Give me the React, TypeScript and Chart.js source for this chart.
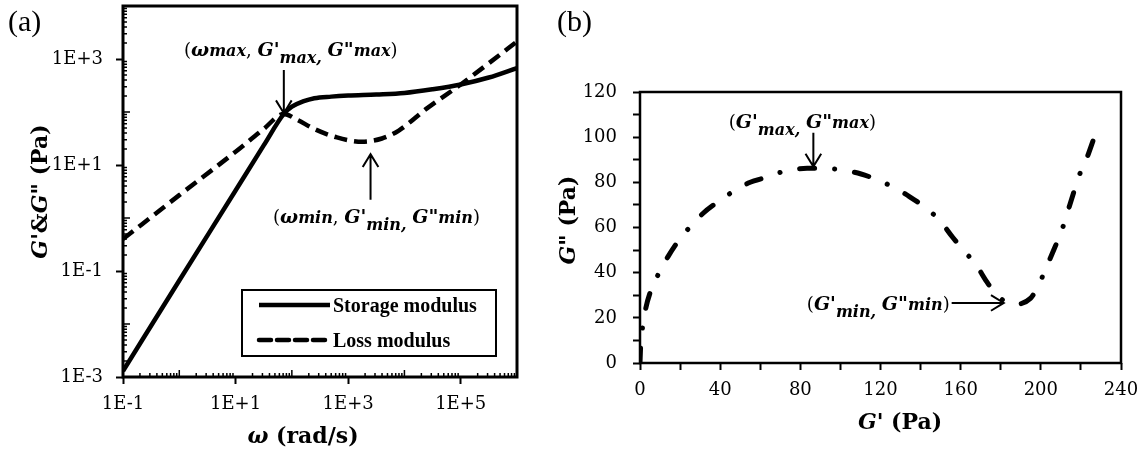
import React, { useEffect, useRef } from 'react';
import { Chart, registerables } from 'chart.js';
Chart.register(...registerables);

const DV = '"DejaVu Serif", serif';
const LIB = '"Liberation Serif", serif';

// ---------- Panel (a): G' and G'' vs omega ----------
const storageOmega = [0.1, 1, 10, 31.6, 72, 100, 158, 251, 501, 1000, 3160, 10000, 31600, 100000, 316000, 1000000];
const storageModulus = [0.0013, 0.066, 3.3, 23.4, 92, 126, 158, 182, 195, 204, 214, 229, 269, 331, 447, 676];
const lossOmega = [0.1, 1, 10, 31.6, 72, 126, 251, 631, 1780, 3980, 7940, 25100, 100000, 316000, 1000000];
const lossModulus = [0.4, 2.7, 17.8, 47.9, 92, 70.8, 47.9, 33.1, 27.5, 31.6, 44.7, 117, 331, 832, 2140];

const xTickValuesA = [0.1, 10, 1000, 100000];
const xTickLabelsA = ['1E-1', '1E+1', '1E+3', '1E+5'];
const yTickValuesA = [0.001, 0.1, 10, 1000];
const yTickLabelsA = ['1E-3', '1E-1', '1E+1', '1E+3'];

// arrow anchors in data space: [omega, G]
const arrowMaxTipA = [72, 95];
const arrowMaxTailA = [72, 620];
const arrowMinTipA = [2500, 16];
const arrowMinTailA = [2500, 2.2];

// ---------- Panel (b): G'' vs G' ----------
const gPrime = [0, 0.3, 1.2, 2.7, 5.5, 9.2, 13.9, 19.5, 24.6, 31.5, 38.9, 46.4, 54.7, 63, 72.4, 83.4, 90.8, 100.5, 110.3, 118.7, 127, 134.4, 142.8, 149.7, 155.8, 161.3, 167.5, 173, 178, 186.4, 194.8, 198.5, 203.1, 206.8, 210.5, 213.3, 216, 218.9, 222.6, 226.3];
const gDoublePrime = [0, 7.2, 15.4, 23.5, 32.3, 39.4, 47, 54.5, 59.9, 66.3, 71.4, 75.9, 79.9, 82.2, 85, 86.2, 86.2, 85.5, 83.7, 81, 77.6, 73.7, 68.5, 63, 55.9, 50, 43.7, 36, 30.1, 26, 28.6, 33.8, 43.1, 50.8, 58.9, 66.7, 74.4, 82.5, 89.9, 99];

const xTickValuesB = [0, 20, 40, 60, 80, 100, 120, 140, 160, 180, 200, 220, 240];
const xTickLabelsB = ['0', '', '40', '', '80', '', '120', '', '160', '', '200', '', '240'];
const yTickValuesB = [0, 10, 20, 30, 40, 50, 60, 70, 80, 90, 100, 110, 120];
const yTickLabelsB = ['0', '', '20', '', '40', '', '60', '', '80', '', '100', '', '120'];

const arrowMaxTipB = [86.5, 87];
const arrowMaxTailB = [86.5, 102];
const arrowMinTipB = [181.5, 26.6];
const arrowMinTailB = [155.5, 26.6];

type Run = [string, string, number?];

function drawRuns(ctx: CanvasRenderingContext2D, runs: Run[], x: number, y: number, align: 'left' | 'center' | 'right') {
  let w = 0;
  for (const r of runs) { ctx.font = r[1]; w += ctx.measureText(r[0]).width; }
  let cx = align === 'center' ? x - w / 2 : align === 'right' ? x - w : x;
  ctx.textAlign = 'left';
  ctx.textBaseline = 'alphabetic';
  ctx.fillStyle = '#000';
  for (const r of runs) {
    ctx.font = r[1];
    ctx.fillText(r[0], cx, y + (r[2] || 0));
    cx += ctx.measureText(r[0]).width;
  }
}

function drawArrow(ctx: CanvasRenderingContext2D, x1: number, y1: number, x2: number, y2: number, head = 15, spread = 0.55) {
  const ang = Math.atan2(y2 - y1, x2 - x1);
  ctx.save();
  ctx.strokeStyle = '#000';
  ctx.lineWidth = 2;
  ctx.beginPath();
  ctx.moveTo(x1, y1);
  ctx.lineTo(x2, y2);
  ctx.moveTo(x2 - head * Math.cos(ang - spread), y2 - head * Math.sin(ang - spread));
  ctx.lineTo(x2, y2);
  ctx.lineTo(x2 - head * Math.cos(ang + spread), y2 - head * Math.sin(ang + spread));
  ctx.stroke();
  ctx.restore();
}

const R18 = `18px ${DV}`;
const BI19 = `italic bold 19px ${DV}`;
const SI16 = `italic bold 16px ${DV}`;
const BI22 = `italic bold 22px ${DV}`;
const B22 = `bold 22px ${DV}`;

const frameA = {
  id: 'frameA',
  afterDatasetsDraw(chart: any) {
    const { ctx, chartArea: a, scales } = chart;
    const x = scales.x, y = scales.y;
    ctx.save();
    ctx.strokeStyle = '#000';
    // minor ticks (inside)
    ctx.lineWidth = 1.5;
    ctx.beginPath();
    for (let e = -1; e < 6; e++) {
      for (let m = 1; m <= 9; m++) {
        if (m === 1 && (e % 2 !== 0)) continue;
        const px = x.getPixelForValue(m * Math.pow(10, e));
        const len = m === 1 ? 7 : 4;
        ctx.moveTo(px, a.bottom);
        ctx.lineTo(px, a.bottom - len);
      }
    }
    for (let e = -3; e < 4; e++) {
      for (let m = 1; m <= 9; m++) {
        if (m === 1 && (e % 2 !== 0)) continue;
        const py = y.getPixelForValue(m * Math.pow(10, e));
        const len = m === 1 ? 7 : 4;
        ctx.moveTo(a.left, py);
        ctx.lineTo(a.left + len, py);
      }
    }
    ctx.stroke();
    ctx.lineWidth = 3;
    ctx.strokeRect(a.left, a.top, a.right - a.left, a.bottom - a.top);

    // legend
    const ds = chart.data.datasets;
    const lx = a.right - 275, ly = a.bottom - 87, lw = 254, lh = 66;
    ctx.lineWidth = 2;
    ctx.fillStyle = '#fff';
    ctx.fillRect(lx, ly, lw, lh);
    ctx.strokeRect(lx, ly, lw, lh);
    ds.forEach((d: any, i: number) => {
      const yy = ly + 15 + i * 35;
      ctx.save();
      ctx.lineWidth = d.borderWidth;
      ctx.setLineDash(i === 1 ? [12, 6] : []);
      ctx.lineCap = i === 1 ? 'round' : 'butt';
      ctx.beginPath();
      ctx.moveTo(lx + 17, yy);
      ctx.lineTo(lx + 88, yy);
      ctx.stroke();
      ctx.restore();
      drawRuns(ctx, [[d.label, `bold 20px ${LIB}`]], lx + 91, yy + 7, 'left');
    });

    // arrows & annotations
    const tA = [x.getPixelForValue(arrowMaxTailA[0]), y.getPixelForValue(arrowMaxTailA[1])];
    const hA = [x.getPixelForValue(arrowMaxTipA[0]), y.getPixelForValue(arrowMaxTipA[1])];
    drawArrow(ctx, tA[0], tA[1], hA[0], hA[1]);
    drawRuns(ctx, [['(', R18], ['ω', BI19], ['max', SI16], [', ', R18], ["G'", BI19], ['max,', SI16, 7], [' ', R18], ['G"', BI19], ['max', SI16], [')', R18]], tA[0] + 7, tA[1] - 14, 'center');

    const tB = [x.getPixelForValue(arrowMinTailA[0]), y.getPixelForValue(arrowMinTailA[1])];
    const hB = [x.getPixelForValue(arrowMinTipA[0]), y.getPixelForValue(arrowMinTipA[1])];
    drawArrow(ctx, tB[0], tB[1], hB[0], hB[1]);
    drawRuns(ctx, [['(', R18], ['ω', BI19], ['min', SI16], [', ', R18], ["G'", BI19], ['min,', SI16, 7], [' ', R18], ['G"', BI19], ['min', SI16], [')', R18]], tB[0] + 6, tB[1] + 23, 'center');

    // titles
    drawRuns(ctx, [['ω', BI22], [' (rad/s)', B22]], 303, 443, 'center');
    ctx.save();
    ctx.translate(40, (a.top + a.bottom) / 2);
    ctx.rotate(-Math.PI / 2);
    drawRuns(ctx, [["G'", BI22], ['&', B22], ['G"', BI22], [' (Pa)', B22]], 0, 7, 'center');
    ctx.restore();
    drawRuns(ctx, [['(a)', `30px ${LIB}`]], 8, 31, 'left');
    ctx.restore();
  },
};

const frameB = {
  id: 'frameB',
  afterDatasetsDraw(chart: any) {
    const { ctx, chartArea: a, scales } = chart;
    const x = scales.x, y = scales.y;
    ctx.save();
    ctx.strokeStyle = '#000';
    ctx.lineWidth = 2.5;
    ctx.strokeRect(a.left, a.top, a.right - a.left, a.bottom - a.top);

    const t1 = [x.getPixelForValue(arrowMaxTailB[0]), y.getPixelForValue(arrowMaxTailB[1])];
    const h1 = [x.getPixelForValue(arrowMaxTipB[0]), y.getPixelForValue(arrowMaxTipB[1])];
    drawArrow(ctx, t1[0], t1[1], h1[0], h1[1]);
    drawRuns(ctx, [['(', R18], ["G'", BI19], ['max,', SI16, 7], [' ', R18], ['G"', BI19], ['max', SI16], [')', R18]], t1[0] - 11, t1[1] - 5, 'center');

    const t2 = [x.getPixelForValue(arrowMinTailB[0]), y.getPixelForValue(arrowMinTailB[1])];
    const h2 = [x.getPixelForValue(arrowMinTipB[0]), y.getPixelForValue(arrowMinTipB[1])];
    drawArrow(ctx, t2[0], t2[1], h2[0], h2[1]);
    drawRuns(ctx, [['(', R18], ["G'", BI19], ['min,', SI16, 7], [' ', R18], ['G"', BI19], ['min', SI16], [')', R18]], t2[0] - 2, t2[1] + 7, 'right');

    drawRuns(ctx, [["G'", BI22], [' (Pa)', B22]], 360, 429, 'center');
    ctx.save();
    ctx.translate(28, 220);
    ctx.rotate(-Math.PI / 2);
    drawRuns(ctx, [['G"', BI22], [' (Pa)', B22]], 0, 7, 'center');
    ctx.restore();
    drawRuns(ctx, [['(b)', `30px ${LIB}`]], 17, 31, 'left');
    ctx.restore();
  },
};

function zeroPad(s: any) {
  s.paddingLeft = 0; s.paddingRight = 0; s.paddingTop = 0; s.paddingBottom = 0;
}

const tickFont = { family: '"DejaVu Serif", serif', size: 18 };
const gridOpts = { drawOnChartArea: false, tickLength: 7, tickWidth: 2, tickColor: '#000' };

export default function App() {
  const refA = useRef<HTMLCanvasElement | null>(null);
  const refB = useRef<HTMLCanvasElement | null>(null);

  useEffect(() => {
    const chartA = new Chart(refA.current as HTMLCanvasElement, {
      type: 'line',
      data: {
        datasets: [
          {
            label: 'Storage modulus',
            data: storageOmega.map((w, i) => ({ x: w, y: storageModulus[i] })),
            borderColor: '#000', borderWidth: 4.5, pointRadius: 0, fill: false,
            cubicInterpolationMode: 'monotone',
          },
          {
            label: 'Loss modulus',
            data: lossOmega.map((w, i) => ({ x: w, y: lossModulus[i] })),
            borderColor: '#000', borderWidth: 4.5, borderDash: [13, 7], pointRadius: 0, fill: false,
            cubicInterpolationMode: 'monotone',
          },
        ],
      },
      options: {
        responsive: false,
        animation: false,
        events: [],
        layout: { padding: { top: 6, right: 23, left: 0, bottom: 0 } },
        plugins: { legend: { display: false }, tooltip: { enabled: false } },
        scales: {
          x: {
            type: 'logarithmic', min: 0.1, max: 1000000,
            afterBuildTicks: (s: any) => { s.ticks = xTickValuesA.map((v) => ({ value: v })); },
            afterFit: (s: any) => { s.height = 74; zeroPad(s); },
            ticks: { callback: (_v: any, i: number) => xTickLabelsA[i], autoSkip: false, maxRotation: 0, padding: 10, font: tickFont, color: '#000' },
            grid: gridOpts,
            border: { display: false },
          },
          y: {
            type: 'logarithmic', min: 0.001, max: 10000,
            afterBuildTicks: (s: any) => { s.ticks = yTickValuesA.map((v) => ({ value: v })); },
            afterFit: (s: any) => { s.width = 123; zeroPad(s); },
            ticks: { callback: (_v: any, i: number) => yTickLabelsA[i], autoSkip: false, padding: 13, font: tickFont, color: '#000' },
            grid: gridOpts,
            border: { display: false },
          },
        },
      } as any,
      plugins: [frameA],
    });

    const chartB = new Chart(refB.current as HTMLCanvasElement, {
      type: 'line',
      data: {
        datasets: [
          {
            label: "G''",
            data: gPrime.map((g, i) => ({ x: g, y: gDoublePrime[i] })),
            borderColor: '#000', borderWidth: 5, borderDash: [15, 20, 0.1, 20], borderCapStyle: 'round',
            pointRadius: 0, fill: false, cubicInterpolationMode: 'monotone',
          },
        ],
      },
      options: {
        responsive: false,
        animation: false,
        events: [],
        layout: { padding: { top: 92, right: 22, left: 0, bottom: 0 } },
        plugins: { legend: { display: false }, tooltip: { enabled: false } },
        scales: {
          x: {
            type: 'linear', min: 0, max: 240,
            afterBuildTicks: (s: any) => { s.ticks = xTickValuesB.map((v) => ({ value: v })); },
            afterFit: (s: any) => { s.height = 88; zeroPad(s); },
            ticks: { callback: (_v: any, i: number) => xTickLabelsB[i], autoSkip: false, maxRotation: 0, padding: 10, font: tickFont, color: '#000' },
            grid: gridOpts,
            border: { display: false },
          },
          y: {
            type: 'linear', min: 0, max: 120,
            afterBuildTicks: (s: any) => { s.ticks = yTickValuesB.map((v) => ({ value: v })); },
            afterFit: (s: any) => { s.width = 100; zeroPad(s); },
            ticks: { callback: (_v: any, i: number) => yTickLabelsB[i], autoSkip: false, padding: 16, font: tickFont, color: '#000' },
            grid: gridOpts,
            border: { display: false },
          },
        },
      } as any,
      plugins: [frameB],
    });

    return () => { chartA.destroy(); chartB.destroy(); };
  }, []);

  return (
    <div style={{ position: 'absolute', left: 0, top: 0, width: 1143, height: 451, background: '#fff' }}>
      <canvas ref={refA} width={540} height={451} style={{ position: 'absolute', left: 0, top: 0, display: 'block' }} />
      <canvas ref={refB} width={603} height={451} style={{ position: 'absolute', left: 540, top: 0, display: 'block' }} />
    </div>
  );
}
